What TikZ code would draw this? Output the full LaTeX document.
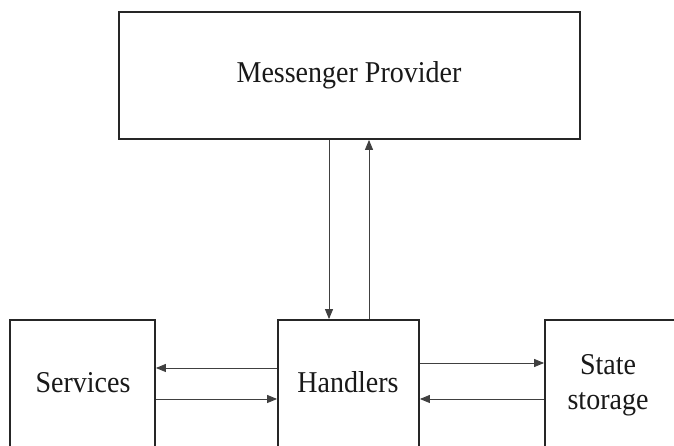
\documentclass[tikz,border=0pt]{standalone}
\usepackage{fontspec}
\setmainfont{Liberation Serif}
\usetikzlibrary{arrows.meta}
\begin{document}
\begin{tikzpicture}[x=1pt,y=1pt,
  box/.style={draw=black!85,line width=1.8pt,inner sep=0pt},
  lbl/.style={font=\fontsize{28}{35}\selectfont,anchor=base,inner sep=0pt,text=black!90,yscale=1.08},
  conn/.style={draw=black!75,line width=0.9pt,-{Triangle[length=10pt,width=8pt]}}]
\useasboundingbox (0,0) rectangle (674,446);
\clip (0,0) rectangle (674,446);
\fill[white] (0,0) rectangle (674,446);
% boxes
\node[box,minimum width=461pt,minimum height=127pt] (mp) at (349.5,370.5) {};
\node[box,minimum width=145pt,minimum height=160pt] (serv) at (82.5,46) {};
\node[box,minimum width=141pt,minimum height=160pt] (hand) at (348.5,46) {};
\node[box,minimum width=150pt,minimum height=160pt] (stat) at (620,46) {};
% labels
\node[lbl] (tmp) at (349,363) {Messenger Provider};
\node[lbl] (tserv) at (83,53) {Services};
\node[lbl] (thand) at (348,53) {Handlers};
\node[lbl] (tst1) at (608,71) {State};
\node[lbl] (tst2) at (608,36) {storage};
% connectors
\draw[conn] (mp.south -| 329,0) -- (hand.north -| 329,0);
\draw[conn] (hand.north -| 369,0) -- (mp.south -| 369,0);
\draw[conn] (hand.west |- 0,78) -- (serv.east |- 0,78);
\draw[conn] (serv.east |- 0,47) -- (hand.west |- 0,47);
\draw[conn] (hand.east |- 0,83) -- (stat.west |- 0,83);
\draw[conn] (stat.west |- 0,47) -- (hand.east |- 0,47);
\end{tikzpicture}
\end{document}
